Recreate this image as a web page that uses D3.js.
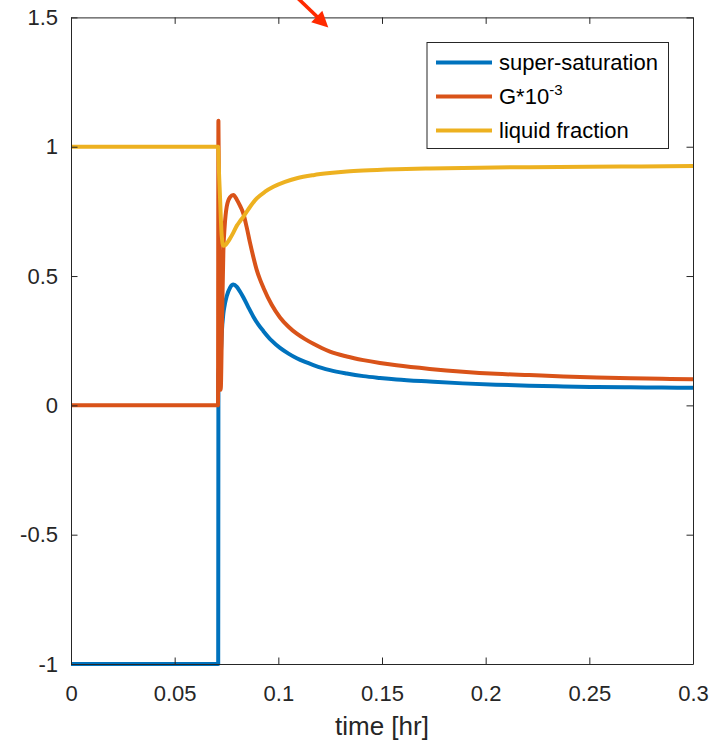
<!DOCTYPE html>
<html>
<head>
<meta charset="utf-8">
<script src="https://cdn.jsdelivr.net/npm/d3@7"></script>
<style>
  html, body { margin: 0; padding: 0; background: #fff; }
  svg { display: block; }
</style>
</head>
<body>
<div id="chart"></div>
<script>
// ---- data -------------------------------------------------------------
const seriesNames = ["super-saturation", "G*10", "liquid fraction"];
const seriesColors = ["#0072BD", "#D95319", "#EDB120"];

// super-saturation
const timeSS = [0, 0.0710, 0.0711, 0.0723, 0.0727, 0.0735, 0.0743, 0.0751, 0.0767, 0.0783, 0.0800, 0.0815,
  0.0831, 0.0855, 0.0879, 0.0903, 0.0928, 0.0968, 0.1008, 0.1049, 0.1089, 0.1129, 0.1169, 0.1209, 0.1249,
  0.1330, 0.141, 0.149, 0.157, 0.173, 0.189, 0.205, 0.221, 0.2375, 0.2536, 0.27, 0.285, 0.3];
const superSat = [-1, -1, 0.12, 0.205, 0.278, 0.356, 0.395, 0.422, 0.455, 0.467, 0.458, 0.440,
  0.418, 0.380, 0.344, 0.313, 0.287, 0.250, 0.222, 0.200, 0.182, 0.168, 0.156, 0.145, 0.136,
  0.123, 0.113, 0.106, 0.100, 0.092, 0.085, 0.080, 0.076, 0.073, 0.071, 0.070, 0.069, 0.068];

// growth rate, scaled by 10^-3
const timeG = [0, 0.0709, 0.0711, 0.0716, 0.0722, 0.0728, 0.0735, 0.0741, 0.0751, 0.0767, 0.0783, 0.0800,
  0.0815, 0.0831, 0.0847, 0.0863, 0.0880, 0.0896, 0.0912, 0.0928, 0.0968, 0.1008, 0.1049, 0.1089, 0.1129,
  0.1169, 0.1209, 0.1249, 0.1330, 0.141, 0.149, 0.157, 0.173, 0.189, 0.205, 0.221, 0.2375, 0.2536, 0.27,
  0.285, 0.3];
const growth = [0, 0, 1.1, 0.55, 0.06, 0.30, 0.60, 0.69, 0.768, 0.805, 0.813, 0.795,
  0.772, 0.742, 0.690, 0.630, 0.572, 0.523, 0.486, 0.455, 0.389, 0.340, 0.304, 0.277, 0.256,
  0.238, 0.222, 0.208, 0.189, 0.175, 0.164, 0.155, 0.141, 0.130, 0.122, 0.117, 0.112, 0.108, 0.105,
  0.103, 0.1005];

// liquid fraction
const timeLF = [0, 0.0710, 0.0711, 0.0719, 0.0727, 0.0735, 0.0743, 0.0755, 0.0767, 0.0783, 0.0800, 0.0815,
  0.0831, 0.0863, 0.0896, 0.0936, 0.0976, 0.1032, 0.1089, 0.1169, 0.1249, 0.1330, 0.141, 0.157, 0.173,
  0.197, 0.221, 0.25, 0.275, 0.3];
const liquidFrac = [1, 1, 0.97, 0.80, 0.655, 0.617, 0.619, 0.630, 0.645, 0.668, 0.695, 0.712,
  0.729, 0.767, 0.800, 0.826, 0.845, 0.864, 0.878, 0.890, 0.898, 0.904, 0.908, 0.913, 0.916,
  0.919, 0.921, 0.923, 0.924, 0.925];

// axes
const xTicks = [0, 0.05, 0.1, 0.15, 0.2, 0.25, 0.3];
const xTickLabels = ["0", "0.05", "0.1", "0.15", "0.2", "0.25", "0.3"];
const yTicks = [-1, -0.5, 0, 0.5, 1, 1.5];
const yTickLabels = ["-1", "-0.5", "0", "0.5", "1", "1.5"];
const xLabel = "time [hr]";

// annotation arrow (data coordinates: tail, head)
const arrowTail = [0.1080, 1.585];
const arrowHead = [0.1241, 1.461];

// ---- layout -----------------------------------------------------------
const W = 720, H = 744;
const margin = { left: 71, right: 27, top: 17.4, bottom: 80 };
const iw = W - margin.left - margin.right;
const ih = H - margin.top - margin.bottom;
const FONT = '"Liberation Sans", Arial, Helvetica, sans-serif';
const AX = "#262626";
const LW = 4;

const svg = d3.select("#chart").append("svg")
  .attr("width", W).attr("height", H)
  .style("font-family", FONT);

const x = d3.scaleLinear().domain([0, 0.3]).range([0, iw]);
const y = d3.scaleLinear().domain([-1, 1.5]).range([ih, 0]);

const g = svg.append("g").attr("transform", `translate(${margin.left},${margin.top})`);

g.append("defs").append("clipPath").attr("id", "plotclip")
  .append("rect").attr("x", -2).attr("y", -2).attr("width", iw + 4).attr("height", ih + 4);

// ---- series -----------------------------------------------------------
const series = [
  { t: timeSS, v: superSat },
  { t: timeG, v: growth },
  { t: timeLF, v: liquidFrac }
];

const line = d3.line()
  .x(d => x(d[0]))
  .y(d => y(d[1]))
  .curve(d3.curveMonotoneX);

const plot = g.append("g").attr("clip-path", "url(#plotclip)");
series.forEach((s, i) => {
  const pts = s.t.map((t, k) => [t, s.v[k]]);
  plot.append("path")
    .datum(pts)
    .attr("d", line)
    .attr("fill", "none")
    .attr("stroke", seriesColors[i])
    .attr("stroke-width", LW)
    .attr("stroke-linejoin", "round")
    .attr("stroke-linecap", "butt");
});

// ---- axes (box with inward ticks on all sides) -------------------------
const tickLen = 6.5;
function styleAxis(sel) {
  sel.select(".domain").attr("stroke", AX).attr("stroke-width", 1);
  sel.selectAll(".tick line").attr("stroke", AX).attr("stroke-width", 1);
  sel.selectAll(".tick text").attr("fill", AX).style("font-size", "22px").style("font-family", FONT);
}

const xAxis = d3.axisBottom(x).tickValues(xTicks)
  .tickFormat((d, i) => xTickLabels[i]).tickSizeInner(-tickLen).tickSizeOuter(0).tickPadding(21);
g.append("g").attr("transform", `translate(0,${ih})`).call(xAxis).call(styleAxis);

const xAxisTop = d3.axisTop(x).tickValues(xTicks).tickFormat("").tickSizeInner(-tickLen).tickSizeOuter(0);
g.append("g").call(xAxisTop).call(styleAxis);

const yAxis = d3.axisLeft(y).tickValues(yTicks)
  .tickFormat((d, i) => yTickLabels[i]).tickSizeInner(-tickLen).tickSizeOuter(0).tickPadding(13);
g.append("g").call(yAxis).call(styleAxis);

const yAxisRight = d3.axisRight(y).tickValues(yTicks).tickFormat("").tickSizeInner(-tickLen).tickSizeOuter(0);
g.append("g").attr("transform", `translate(${iw},0)`).call(yAxisRight).call(styleAxis);

// axis label
g.append("text")
  .attr("x", iw / 2).attr("y", ih + 71)
  .attr("text-anchor", "middle")
  .attr("fill", AX)
  .style("font-size", "26px")
  .text(xLabel);

// ---- legend -----------------------------------------------------------
const legendX = 427 - margin.left, legendY = 42.5 - margin.top;
const legendW = 241.5, legendH = 106;
const legend = g.append("g").attr("transform", `translate(${legendX},${legendY})`);
legend.append("rect")
  .attr("width", legendW).attr("height", legendH)
  .attr("fill", "#fff").attr("stroke", AX).attr("stroke-width", 1);

const rowY = [20, 54, 88];
seriesNames.forEach((name, i) => {
  const row = legend.append("g").attr("transform", `translate(0,${rowY[i]})`);
  row.append("line")
    .attr("x1", 9).attr("x2", 65).attr("y1", 0).attr("y2", 0)
    .attr("stroke", seriesColors[i]).attr("stroke-width", LW);
  const txt = row.append("text")
    .attr("x", 72).attr("y", 0).attr("dy", "0.36em")
    .attr("fill", "#000")
    .style("font-size", "22px");
  txt.append("tspan").text(name);
  if (i === 1) {
    txt.append("tspan").attr("dy", "-0.6em").style("font-size", "15px").text("-3");
  }
});

// ---- annotation arrow ---------------------------------------------------
const ax0 = x(arrowTail[0]), ay0 = y(arrowTail[1]);
const ax1 = x(arrowHead[0]), ay1 = y(arrowHead[1]);
const dx = ax1 - ax0, dy = ay1 - ay0, len = Math.hypot(dx, dy);
const ux = dx / len, uy = dy / len;
const headLen = 16, headHalf = 8;
const bx = ax1 - ux * headLen, by = ay1 - uy * headLen;
const arrow = svg.append("g").attr("transform", `translate(${margin.left},${margin.top})`);
arrow.append("line")
  .attr("x1", ax0).attr("y1", ay0).attr("x2", bx + ux * 2).attr("y2", by + uy * 2)
  .attr("stroke", "#FF2A00").attr("stroke-width", 3.6);
arrow.append("path")
  .attr("d", `M${ax1},${ay1}L${bx - uy * headHalf},${by + ux * headHalf}L${bx + uy * headHalf},${by - ux * headHalf}Z`)
  .attr("fill", "#FF2A00");
</script>
</body>
</html>
